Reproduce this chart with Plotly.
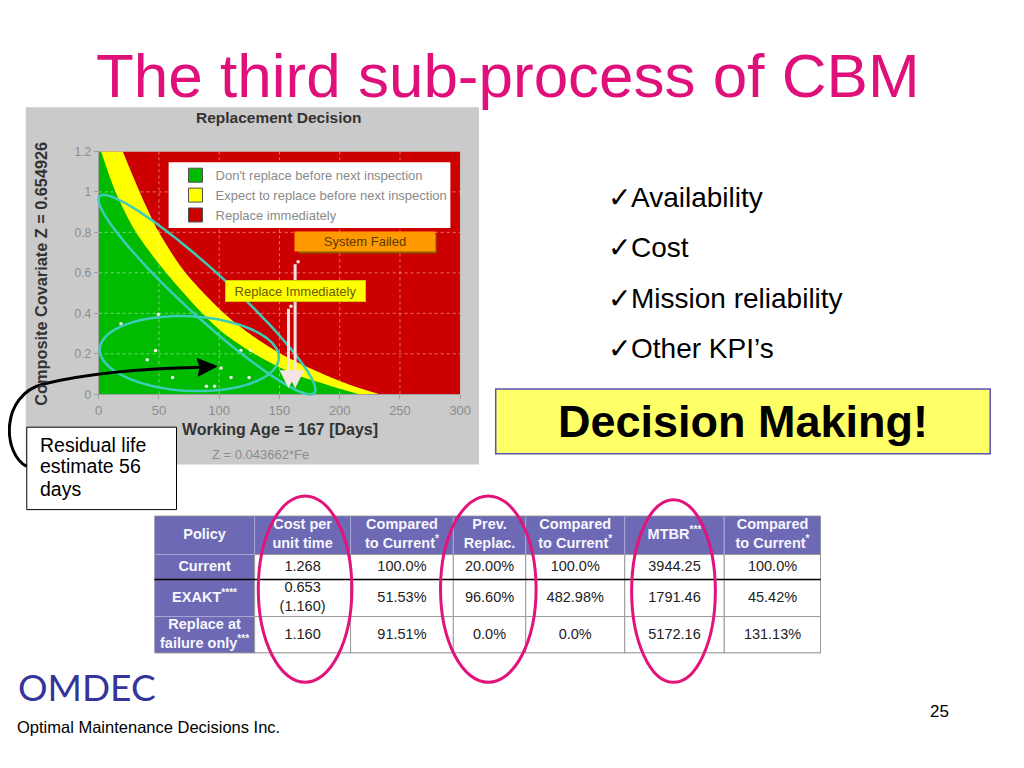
import numpy as np
import plotly.graph_objects as go

# page is 1024x768; the browser body keeps an 8px margin, so the figure is 1008x752
PAGE_W, PAGE_H, OFF = 1024, 768, 8
W, H = PAGE_W - 2 * OFF, PAGE_H - 2 * OFF
FONT = "Liberation Sans, Arial, sans-serif"

# ---------------- chart data ----------------
X_TICKS = [0, 50, 100, 150, 200, 250, 300]
Y_TICKS = [0, 0.2, 0.4, 0.6, 0.8, 1.0, 1.2]
X_RANGE = [0, 300]
Y_RANGE = [0, 1.2]

EDGE_Y = [1.2, 1.0, 0.8, 0.6, 0.4, 0.3, 0.2, 0.1, 0.05, 0.0]
GREEN_EDGE_X = [2, 14, 31, 56, 86, 104, 129, 162, 188, 216]
YELLOW_EDGE_X = [20, 34, 50, 72, 104, 125, 151, 186, 207, 233]

OBS_X = [18.5, 49.6, 47.2, 40.3, 61.3, 101.6, 109.8, 124.8, 118.0, 126.1, 89.4, 96.2, 159.5, 165.5]
OBS_Y = [0.348, 0.395, 0.216, 0.171, 0.083, 0.130, 0.083, 0.083, 0.216, 0.216, 0.040, 0.040, 0.435, 0.655]

ARROW_X = [157.5, 163.0]
ARROW_TOP = [0.43, 0.65]
ARROW_BOTTOM = [0.03, 0.03]

LEGEND_NAMES = ["Don't replace before next inspection",
                "Expect to replace before next inspection",
                "Replace immediately"]
GREEN, YELLOW, RED = "#00BB00", "#FFFF00", "#CC0000"
LEGEND_COLORS = [GREEN, YELLOW, RED]

# ---------------- table data ----------------
TABLE_HEADER = ["Policy", "Cost per<br>unit time", "Compared<br>to Current<sup>*</sup>",
                "Prev.<br>Replac.", "Compared<br>to Current<sup>*</sup>",
                "MTBR<sup>***</sup>", "Compared<br>to Current<sup>*</sup>"]
POLICY = ["Current", "EXAKT<sup>****</sup>", "Replace at<br>failure only<sup>***</sup>"]
COST = ["1.268", "0.653<br>(1.160)", "1.160"]
COST_VS = ["100.0%", "51.53%", "91.51%"]
PREV = ["20.00%", "96.60%", "0.0%"]
PREV_VS = ["100.0%", "482.98%", "0.0%"]
MTBR = ["3944.25", "1791.46", "5172.16"]
MTBR_VS = ["100.0%", "45.42%", "131.13%"]
TABLE_COLUMNS = [POLICY, COST, COST_VS, PREV, PREV_VS, MTBR, MTBR_VS]

# table geometry (page pixels)
TABLE_LEFT, TABLE_TOP = 152.7, 518.3
COL_WIDTHS = [101.6, 97.4, 104.3, 73.5, 100.5, 101.0, 98.0]
ROW_HEIGHTS = [39.5, 25.5, 37.7, 37.3]

BULLETS = ["Availability", "Cost", "Mission reliability", "Other KPI\u2019s"]
BULLET_Y = [194, 245, 297, 348]
RESIDUAL_LINES = ["Residual life", "estimate 56", "days"]
RESIDUAL_Y = [446, 468, 491]

PURPLE = "#6E69B4"
PINK = "#E2137A"
TEAL = "#3CCDB8"


def fx(p):
    return (p - OFF) / W


def fy(p):
    return 1 - (p - OFF) / H


def path_from_pixels(xs, ys, close=False):
    s = "M " + " L ".join(f"{fx(x):.5f},{fy(y):.5f}" for x, y in zip(xs, ys))
    return s + (" Z" if close else "")


def ellipse_pixels(cx, cy, a, b, ang_deg, n=80):
    t = np.linspace(0, 2 * np.pi, n)
    ang = np.radians(ang_deg)
    ex, ey = a * np.cos(t), b * np.sin(t)
    xs = cx + ex * np.cos(ang) - ey * np.sin(ang)
    ys = cy + ex * np.sin(ang) + ey * np.cos(ang)
    return xs, ys


fig = go.Figure()

# decision regions (red, then yellow, then green on top)
fig.add_trace(go.Scatter(x=[X_RANGE[1], X_RANGE[1]], y=[Y_RANGE[0], Y_RANGE[1]],
                         mode="none", fill="tozerox", fillcolor=RED,
                         showlegend=False, hoverinfo="skip"))
fig.add_trace(go.Scatter(x=YELLOW_EDGE_X, y=EDGE_Y, mode="none", fill="tozerox",
                         fillcolor=YELLOW, line=dict(shape="spline", smoothing=0.8),
                         showlegend=False, hoverinfo="skip"))
fig.add_trace(go.Scatter(x=GREEN_EDGE_X, y=EDGE_Y, mode="none", fill="tozerox",
                         fillcolor=GREEN, line=dict(shape="spline", smoothing=0.8),
                         showlegend=False, hoverinfo="skip"))
fig.add_trace(go.Scatter(x=OBS_X, y=OBS_Y, mode="markers",
                         marker=dict(color="#F0F0F0", size=3.5), showlegend=False,
                         hoverinfo="skip"))
# legend entries
for name, col in zip(LEGEND_NAMES, LEGEND_COLORS):
    fig.add_trace(go.Scatter(x=[None], y=[None], mode="markers", name=name,
                             marker=dict(symbol="square", size=14, color=col,
                                         line=dict(color="#505050", width=1))))

shapes = []
annotations = []

# grey chart panel
shapes.append(dict(type="rect", xref="paper", yref="paper", x0=fx(22), x1=fx(482),
                   y0=fy(466), y1=fy(102), fillcolor="#CACACA", line=dict(width=0),
                   layer="below"))

# grid lines above the fills
for xv in X_TICKS[1:-1]:
    shapes.append(dict(type="line", xref="x", yref="y", x0=xv, x1=xv, y0=Y_RANGE[0],
                       y1=Y_RANGE[1], line=dict(color="rgba(255,255,255,0.45)", width=1,
                                                dash="dot"), layer="above"))
for yv in Y_TICKS[1:-1]:
    shapes.append(dict(type="line", xref="x", yref="y", x0=X_RANGE[0], x1=X_RANGE[1],
                       y0=yv, y1=yv, line=dict(color="rgba(255,255,255,0.45)", width=1,
                                               dash="dot"), layer="above"))

# legend white box
shapes.append(dict(type="rect", xref="paper", yref="paper", x0=fx(167), x1=fx(453),
                   y0=fy(225), y1=fy(158), fillcolor="white", line=dict(width=0),
                   layer="above"))

# teal ellipses
ex, ey = ellipse_pixels(206, 293, 148, 23, 42.6)
shapes.append(dict(type="path", xref="paper", yref="paper", path=path_from_pixels(ex, ey, True),
                   line=dict(color=TEAL, width=2.5), layer="above"))
ex, ey = ellipse_pixels(188, 353, 91, 38, 3)
shapes.append(dict(type="path", xref="paper", yref="paper", path=path_from_pixels(ex, ey, True),
                   line=dict(color=TEAL, width=2.5), layer="above"))

# System failed shadow
shapes.append(dict(type="rect", xref="paper", yref="paper", x0=fx(299), x1=fx(439),
                   y0=fy(251), y1=fy(232), fillcolor="#8A5A00", line=dict(width=0),
                   layer="above"))

# residual life box
shapes.append(dict(type="rect", xref="paper", yref="paper", x0=fx(23), x1=fx(175),
                   y0=fy(512), y1=fy(428), fillcolor="white",
                   line=dict(color="black", width=1), layer="above"))

# black curved arrow
bez = (f"M {fx(23):.5f},{fy(468):.5f} "
       f"C {fx(-2):.5f},{fy(455):.5f} {fx(-4):.5f},{fy(395):.5f} {fx(40):.5f},{fy(384):.5f} "
       f"C {fx(90):.5f},{fy(372):.5f} {fx(150):.5f},{fy(368):.5f} {fx(200):.5f},{fy(367):.5f}")
shapes.append(dict(type="path", xref="paper", yref="paper", path=bez,
                   line=dict(color="black", width=3), layer="above"))
shapes.append(dict(type="path", xref="paper", yref="paper",
                   path=path_from_pixels([216, 196, 199, 197], [366, 358, 367, 376], True),
                   fillcolor="black", line=dict(color="black", width=1), layer="above"))

# decision making box
shapes.append(dict(type="rect", xref="paper", yref="paper", x0=fx(499), x1=fx(1001),
                   y0=fy(455), y1=fy(389), fillcolor="#FFFF66",
                   line=dict(color="#5555BB", width=1.5), layer="above"))

# ---------------- table (own axes x2 / y2, in pixel units) ----------------
col_edges = np.concatenate([[0], np.cumsum(COL_WIDTHS)])
row_edges = np.concatenate([[0], np.cumsum(ROW_HEIGHTS)])
tx, ty, ttext, tcolor = [], [], [], []
for ci in range(len(COL_WIDTHS)):
    for ri in range(len(ROW_HEIGHTS)):
        purple_cell = ri == 0 or ci == 0
        shapes.append(dict(type="rect", xref="x2", yref="y2",
                           x0=col_edges[ci], x1=col_edges[ci + 1],
                           y0=row_edges[ri], y1=row_edges[ri + 1],
                           fillcolor=PURPLE if purple_cell else "white",
                           line=dict(color="#A9A6D6" if purple_cell else "#9A9A9A", width=1),
                           layer="below"))
        tx.append((col_edges[ci] + col_edges[ci + 1]) / 2)
        ty.append((row_edges[ri] + row_edges[ri + 1]) / 2)
        if ri == 0:
            ttext.append(f"<b>{TABLE_HEADER[ci]}</b>")
        elif ci == 0:
            ttext.append(f"<b>{TABLE_COLUMNS[ci][ri - 1]}</b>")
        else:
            ttext.append(TABLE_COLUMNS[ci][ri - 1])
        tcolor.append("#F6F6FF" if purple_cell else "#222222")

fig.add_trace(go.Scatter(x=tx, y=ty, text=ttext, mode="text", textposition="middle center",
                         textfont=dict(color=tcolor, size=14.5, family=FONT),
                         xaxis="x2", yaxis="y2", showlegend=False, hoverinfo="skip"))
# outer border and black line above EXAKT row
shapes.append(dict(type="rect", xref="x2", yref="y2", x0=col_edges[0], x1=col_edges[-1],
                   y0=row_edges[0], y1=row_edges[-1], line=dict(color="#808080", width=1.2),
                   layer="above"))
shapes.append(dict(type="line", xref="x2", yref="y2", x0=col_edges[0] - 2, x1=col_edges[-1],
                   y0=row_edges[2], y1=row_edges[2], line=dict(color="black", width=1.5),
                   layer="above"))

# pink ellipses over table
for x0, x1, y0, y1 in [(258, 353, 498, 688), (443, 540, 498, 688), (637, 722, 502, 688)]:
    shapes.append(dict(type="circle", xref="paper", yref="paper", x0=fx(x0), x1=fx(x1),
                       y0=fy(y1), y1=fy(y0), line=dict(color=PINK, width=3), layer="above"))

# white arrows
for xa, yt, yb in zip(ARROW_X, ARROW_TOP, ARROW_BOTTOM):
    annotations.append(dict(x=xa, y=yb, ax=xa, ay=yt, xref="x", yref="y", axref="x", ayref="y",
                            showarrow=True, arrowhead=2, arrowsize=1.2, arrowwidth=3,
                            arrowcolor="#F4E4E4", text=""))


def txt(text, x, y, size, color="black", bold=False, xanchor="center", family=FONT, **kw):
    if bold:
        text = f"<b>{text}</b>"
    d = dict(text=text, x=fx(x), y=fy(y), xref="paper", yref="paper", showarrow=False,
             xanchor=xanchor, yanchor="middle", font=dict(size=size, color=color, family=family))
    d.update(kw)
    annotations.append(d)


# titles & texts
txt("The third sub-process of CBM", 511, 70, 62, color="#E0107A")
txt("Replacement Decision", 279, 112, 15.5, color="#333333", bold=True)
txt("Composite Covariate Z = 0.654926", 38, 272, 16.3, color="#333333", bold=True, textangle=-90)
txt("Working Age = 167 [Days]", 280, 430, 16, color="#333333", bold=True)
txt("Z = 0.043662*Fe", 260, 456, 13, color="#8C8C8C")
txt("System Failed", 366, 239, 13, color="#5A3A00", bgcolor="#FF9900", width=138, height=17)
txt("Replace Immediately", 295.5, 289, 13, color="#6A5A00", bgcolor="#FFFF00", width=137, height=18,
    bordercolor="#D8C800", borderwidth=1)

for label, yb in zip(BULLETS, BULLET_Y):
    txt("\u2713" + label, 611, yb, 28, xanchor="left")

txt("Decision Making!", 750, 422, 45, bold=True)

for line, yl in zip(RESIDUAL_LINES, RESIDUAL_Y):
    txt(line, 34, yl, 19.5, xanchor="left")

txt("OMDEC", 12, 692, 37, color="#34349A", xanchor="left", family="Lato, Noto Sans, sans-serif")
txt("Optimal Maintenance Decisions Inc.", 11, 733, 16.5, xanchor="left")
txt("25", 950, 718, 17)

fig.update_layout(
    width=W, height=H, margin=dict(l=0, r=0, t=0, b=0),
    paper_bgcolor="white", plot_bgcolor="rgba(0,0,0,0)",
    font=dict(family=FONT),
    xaxis=dict(domain=[fx(96), fx(463)], range=X_RANGE, tickvals=X_TICKS, showgrid=False,
               zeroline=False, ticks="outside", ticklen=4, tickcolor="#A0A0A0",
               showline=True, linecolor="#A0A0A0",
               tickfont=dict(size=13, color="#8C8C8C")),
    yaxis=dict(domain=[fy(394.5), fy(147)], range=Y_RANGE, tickvals=Y_TICKS, showgrid=False,
               zeroline=False, ticks="outside", ticklen=4, tickcolor="#A0A0A0",
               showline=True, linecolor="#A0A0A0",
               tickfont=dict(size=12, color="#8C8C8C")),
    xaxis2=dict(domain=[fx(TABLE_LEFT), fx(TABLE_LEFT + col_edges[-1])],
                range=[0, col_edges[-1]], visible=False, fixedrange=True),
    yaxis2=dict(domain=[fy(TABLE_TOP + row_edges[-1]), fy(TABLE_TOP)],
                range=[row_edges[-1], 0], visible=False, fixedrange=True, anchor="x2"),
    showlegend=True,
    legend=dict(x=fx(174), y=fy(156), xanchor="left", yanchor="top",
                bgcolor="rgba(0,0,0,0)", font=dict(size=13, color="#8A8A8A"),
                traceorder="normal", itemclick=False, tracegroupgap=0),
    shapes=shapes, annotations=annotations,
)
fig.update_layout(xaxis2_anchor="y2")

fig.write_html("out.html", config={"displayModeBar": False})
